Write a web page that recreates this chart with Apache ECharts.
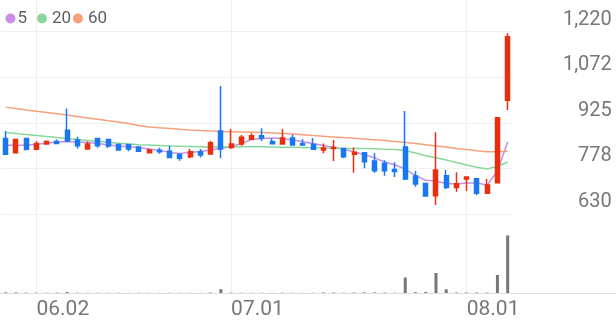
<!DOCTYPE html>
<html><head><meta charset="utf-8">
<script src="https://cdn.jsdelivr.net/npm/echarts@6/dist/echarts.min.js"></script>
<style>html,body{margin:0;padding:0;background:#fff}#c{width:616px;height:321px}</style>
</head><body><div id="c"></div>
<script>
const dates = ['05.28','05.29','05.30','06.02','06.04','06.05','06.09','06.10','06.11','06.12',
  '06.13','06.16','06.17','06.18','06.19','06.20','06.23','06.24','06.25','06.26',
  '06.27','06.30','07.01','07.02','07.03','07.04','07.07','07.08','07.09','07.10',
  '07.11','07.14','07.15','07.16','07.17','07.18','07.21','07.22','07.23','07.24',
  '07.25','07.28','07.29','07.30','07.31','08.01','08.04','08.05','08.06','08.07'];
const opens  = [874,828,874,839,856,864,901,869,840,874, 871,855,855,847,828,836,833,823,815,831,
                824,898,845,856,872,883,864,856,876,857, 855,837,842,842,823,828,801,794,774,847,
                753,729,689,754,716,743,744,697,731,998];
const highs  = [898,873,876,865,868,871,971,880,864,876, 873,858,857,849,842,844,851,824,840,840,
                867,1044,905,885,891,907,874,905,887,872, 876,858,869,843,845,830,826,804,797,963,
                769,730,894,772,765,750,746,743,943,1214];
const lows   = [821,826,835,837,855,857,863,842,839,844, 843,835,833,831,827,825,812,802,810,813,
                823,810,840,851,871,866,856,855,852,852, 838,826,801,810,763,778,763,754,750,740,
                718,687,659,711,702,704,691,695,730,966];
const closes = [823,871,839,858,864,858,866,851,856,851, 850,837,840,833,837,831,813,810,831,821,
                860,840,856,878,883,876,857,876,853,853, 839,843,845,815,830,799,770,770,767,743,
                727,688,772,716,728,750,697,724,941,1203];
const ma5  = [852.8,851.8,852.8,854.4,859.3,862.5,864.1,862.5,861.5,857.6, 852.8,849.6,847.3,844.7,839.9,835.7,829.2,826.0,829.2,831.8,
              836.7,841.5,848.0,857.6,870.6,873.8,875.4,873.8,868.9,863.5, 857.6,851.2,845.4,839.9,830.2,822.1,811.5,797.9,788.2,775.3,
              754.3,738.8,736.6,728.5,726.9,730.1,730.1,723.6,768.8,862.5];
const ma20 = [893.8,890.6,887.0,883.8,880.6,877.0,873.8,870.6,867.7,864.8, 861.8,858.9,856.0,854.1,852.8,851.5,850.2,849.2,848.3,847.3,
              846.3,846.7,847.0,847.3,847.6,847.3,846.7,846.0,845.4,844.7, 843.8,843.1,842.5,841.8,841.5,841.5,841.2,839.6,838.3,835.0,
              827.0,818.0,811.5,804.4,796.3,788.2,781.1,775.3,784.3,797.9];
const ma60 = [975.5,971.0,966.5,962.3,958.1,953.9,949.7,945.2,940.6,936.1, 931.6,927.4,922.9,916.4,911.2,908.7,906.4,904.1,901.9,899.9,
              898.0,897.0,896.1,895.1,894.1,893.2,891.5,889.9,888.3,886.1, 883.8,881.5,879.3,877.0,874.8,872.5,870.2,867.7,864.4,861.5,
              858.0,854.1,850.2,846.3,842.1,838.2,834.4,831.2,831.5,832.8];
const volumes = [9000,8000,5000,4000,3000,5000,12000,4000,3000,3000, 2000,3000,2000,3000,2000,2000,3000,2000,2000,2000,
                 6000,48000,5000,3000,2000,3000,2000,4000,3000,2000, 3000,7000,6000,4000,6000,8000,7000,6000,4000,196000,
                 10000,13000,253000,47000,7000,6000,7000,6000,228000,728000];
const yTickLabels = ['630','778','925','1,072','1,220'];
const xLabelDates = ['06.02','07.01','08.01'];
const maNames = ['5','20','60'];

const priceMin = 630, priceMax = 1220, priceStep = 147.5;
const UP = '#ea2f0e', DOWN = '#1a77f2';
const maColors = ['#c98ee8', '#88d89c', '#f7a07c'];
const FONT = 'Roboto';

const chart = echarts.init(document.getElementById('c'), null, {renderer: 'canvas'});
const candleData = dates.map((d, i) => [opens[i], closes[i], lows[i], highs[i]]);
const maData = [ma5, ma20, ma60];
const legendLeft = [0.5, 32, 68];
const legendPad = [-3, 0, 0];

const option = {
  animation: false,
  backgroundColor: '#ffffff',
  textStyle: {fontFamily: FONT},
  legend: maNames.map((n, k) => ({
    data: [n], left: legendLeft[k], top: 5, icon: 'circle', itemWidth: 10, itemHeight: 10,
    selectedMode: false,
    formatter: '{t|{name}}',
    textStyle: {fontSize: 17, color: '#5f5f5f', fontFamily: FONT,
      rich: {t: {fontSize: 17, color: '#5f5f5f', fontFamily: FONT, padding: [0, 0, 0, legendPad[k]]}}}
  })),
  grid: [
    {left: 0.6, right: 103.2, top: 31.5, bottom: 107},
    {left: 0.6, right: 103.2, top: 214, bottom: 28},
    {left: 5.72, right: 108.3, top: 0, bottom: 28},
    {left: 0, right: 0, top: 214, bottom: 28}
  ],
  xAxis: [
    {gridIndex: 0, type: 'category', data: dates, boundaryGap: true, show: false},
    {gridIndex: 1, type: 'category', data: dates, boundaryGap: true, show: false},
    {gridIndex: 2, type: 'category', data: dates, boundaryGap: false,
      axisLine: {show: false}, axisTick: {show: false},
      splitLine: {show: true, interval: (i, v) => xLabelDates.includes(v), lineStyle: {color: '#eeeeee', width: 1}},
      axisLabel: {interval: (i, v) => xLabelDates.includes(v), align: 'left', margin: 6,
        fontSize: 21, color: '#777', fontFamily: FONT}},
    {gridIndex: 3, type: 'category', data: dates, position: 'top',
      axisLine: {show: true, lineStyle: {color: '#e6e6e6', width: 1}},
      axisTick: {show: false}, axisLabel: {show: false}, splitLine: {show: false}},
    {gridIndex: 3, type: 'category', data: dates, position: 'bottom',
      axisLine: {show: true, lineStyle: {color: '#dedede', width: 1}},
      axisTick: {show: false}, axisLabel: {show: false}, splitLine: {show: false}}
  ],
  yAxis: [
    {gridIndex: 0, type: 'value', position: 'right', min: priceMin, max: priceMax, interval: priceStep,
      axisLine: {show: false}, axisTick: {show: false},
      splitLine: {show: true, lineStyle: {color: '#f0f0f0', width: 1}},
      axisLabel: {align: 'right', margin: 99, verticalAlign: 'bottom', padding: [0, 0, 2, 0],
        fontSize: 20, color: '#777', fontFamily: FONT,
        formatter: v => { const k = Math.round((v - priceMin) / priceStep); return yTickLabels[k] || ''; }}},
    {gridIndex: 1, type: 'value', min: 0, max: 1000000, show: false},
    {gridIndex: 2, type: 'value', show: false},
    {gridIndex: 3, type: 'value', show: false}
  ],
  series: [
    ...maNames.map((n, k) => ({
      name: n, type: 'line', xAxisIndex: 0, yAxisIndex: 0, data: maData[k],
      showSymbol: false, symbol: 'none', silent: true, z: 2,
      lineStyle: {width: 1.5, color: maColors[k]}, itemStyle: {color: maColors[k]}
    })),
    {type: 'candlestick', xAxisIndex: 0, yAxisIndex: 0, data: candleData, barWidth: 4.5, z: 3,
      itemStyle: {color: UP, color0: DOWN, borderColor: UP, borderColor0: DOWN, borderWidth: 1.5}},
    {type: 'bar', xAxisIndex: 1, yAxisIndex: 1, data: volumes, barWidth: 3,
      itemStyle: {color: '#777777'}}
  ]
};
chart.setOption(option);
</script></body></html>
